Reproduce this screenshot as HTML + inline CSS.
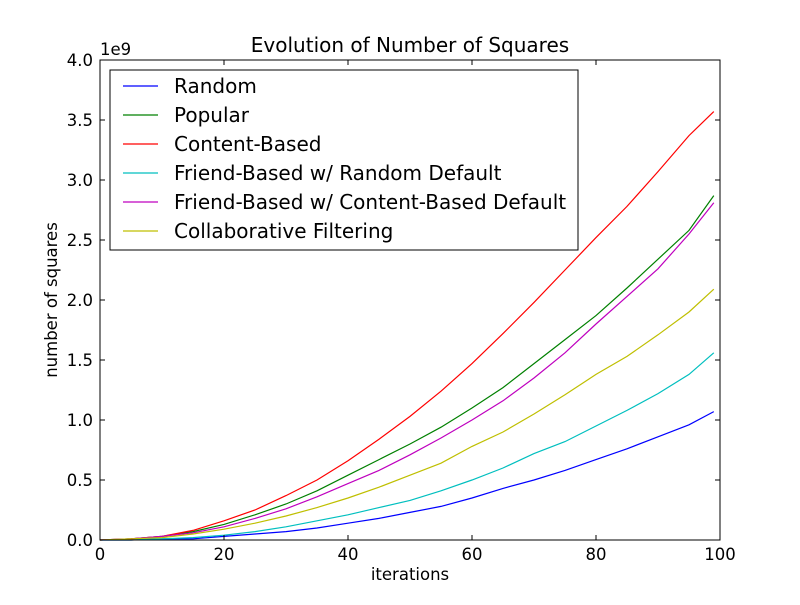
<!DOCTYPE html>
<html><head><meta charset="utf-8"><style>body{margin:0;background:#fff}svg{font-family:"DejaVu Sans","Liberation Sans",sans-serif}</style></head>
<body>
<svg id="c" width="800" height="600" xmlns="http://www.w3.org/2000/svg">
<rect width="800" height="600" fill="#fff"/>
</svg>
<script>
const xs = [0,5,10,15,20,25,30,35,40,45,50,55,60,65,70,75,80,85,90,95,99];
const seriesNames = ["Random","Popular","Content-Based","Friend-Based w/ Random Default","Friend-Based w/ Content-Based Default","Collaborative Filtering"];
const randomVals = [0,0,0.01,0.01,0.03,0.05,0.07,0.1,0.14,0.18,0.23,0.28,0.35,0.43,0.5,0.58,0.67,0.76,0.86,0.96,1.07];
const popularVals = [0,0.01,0.03,0.07,0.13,0.21,0.3,0.41,0.54,0.67,0.8,0.94,1.1,1.27,1.47,1.67,1.87,2.1,2.34,2.58,2.87];
const contentVals = [0,0.01,0.03,0.08,0.16,0.25,0.37,0.5,0.66,0.84,1.03,1.24,1.47,1.72,1.98,2.25,2.52,2.78,3.07,3.37,3.57];
const friendRandVals = [0,0,0.01,0.02,0.04,0.07,0.11,0.16,0.21,0.27,0.33,0.41,0.5,0.6,0.72,0.82,0.95,1.08,1.22,1.38,1.56];
const friendContentVals = [0,0.01,0.03,0.06,0.11,0.18,0.26,0.36,0.47,0.58,0.71,0.85,1.0,1.16,1.35,1.56,1.8,2.03,2.26,2.55,2.81];
const cfVals = [0,0.01,0.02,0.05,0.09,0.14,0.2,0.27,0.35,0.44,0.54,0.64,0.78,0.9,1.05,1.21,1.38,1.53,1.71,1.9,2.09];
const xTicks = [0,20,40,60,80,100];
const yTicks = [0,0.5,1.0,1.5,2.0,2.5,3.0,3.5,4.0];
const yTickLabels = ["0.0","0.5","1.0","1.5","2.0","2.5","3.0","3.5","4.0"];

const colors = ["#0000ff","#008000","#ff0000","#00bfbf","#bf00bf","#bfbf00"];
const allVals = [randomVals,popularVals,contentVals,friendRandVals,friendContentVals,cfVals];
const L=100,R=720,T=60,B=540;
const sx = v => L + (v/100)*(R-L);
const sy = v => B - (v/4)*(B-T);
const svg = document.getElementById('c');
const NS = "http://www.w3.org/2000/svg";
function mk(tag, attrs, text){const e=document.createElementNS(NS,tag);for(const k in attrs)e.setAttribute(k,attrs[k]);if(text!==undefined)e.textContent=text;svg.appendChild(e);return e;}

allVals.forEach((vals,i)=>{
  const p = mk('polyline',{points:vals.map((v,j)=>sx(xs[j])+','+sy(v)).join(' '),fill:'none',stroke:colors[i],'stroke-width':1.2});
  
  
});
const frame = mk('rect',{x:L,y:T,width:R-L,height:B-T,fill:'none',stroke:'#000','stroke-width':1});


xTicks.forEach(t=>{
  const x=sx(t);
  mk('line',{x1:x,x2:x,y1:B,y2:B-5,stroke:'#000'});
  mk('line',{x1:x,x2:x,y1:T,y2:T+5,stroke:'#000'});
  const tx=mk('text',{x:x,y:B+20,'font-size':16.5,'text-anchor':'middle'},String(t));
  
  
});
yTicks.forEach((t,i)=>{
  const y=sy(t);
  mk('line',{x1:L,x2:L+5,y1:y,y2:y,stroke:'#000'});
  mk('line',{x1:R,x2:R-5,y1:y,y2:y,stroke:'#000'});
  const tx=mk('text',{x:L-7,y:y+6,'font-size':16.5,'text-anchor':'end'},yTickLabels[i]);
  
  
});
let e;
e=mk('text',{x:100,y:55,'font-size':16.5},'1e9');


e=mk('text',{x:410,y:52,'font-size':20,'text-anchor':'middle'},'Evolution of Number of Squares');


e=mk('text',{x:410,y:580,'font-size':16.5,'text-anchor':'middle'},'iterations');


e=mk('text',{x:57,y:300,'font-size':16.5,'text-anchor':'middle',transform:'rotate(-90 57 300)'},'number of squares');


e=mk('rect',{x:110,y:70,width:468,height:180,fill:'#fff',stroke:'#000'});


seriesNames.forEach((n,i)=>{
  const y=86+i*29;
  mk('line',{x1:123,x2:158,y1:y,y2:y,stroke:colors[i],'stroke-width':1.2});
  const t=mk('text',{x:174,y:y+7,'font-size':20},n);
  
  
});
</script>
</body></html>
